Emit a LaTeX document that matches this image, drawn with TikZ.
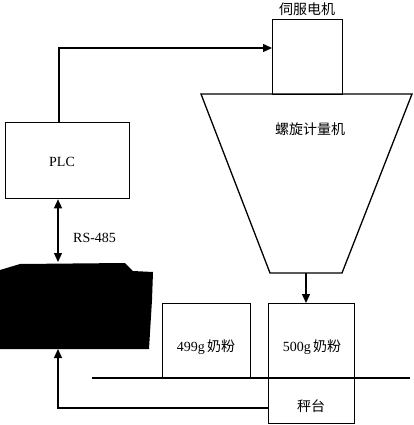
\documentclass[tikz,border=0pt]{standalone}
\usepackage{fontspec}
\setmainfont{Liberation Serif}
\newfontfamily\cjk{Noto Sans CJK SC}
\usetikzlibrary{arrows.meta}
\tikzset{
  box/.style={draw, line width=1.3pt, inner sep=0pt},
  lbl/.style={font=\fontsize{14}{16}\selectfont, inner sep=0pt},
  clbl/.style={font=\cjk\fontsize{14}{16}\selectfont, inner sep=0pt},
  tip/.style={Triangle[length=9pt,width=8pt]},
  conn/.style={line width=1.3pt, -{Triangle[length=9pt,width=8pt]}},
}
\begin{document}
\begin{tikzpicture}[x=1pt,y=-1pt]
\useasboundingbox (0,0) rectangle (413,425);
% servo motor
\node[box, minimum width=70pt, minimum height=75pt, anchor=north west] (servo) at (272,19) {};
\node[clbl] (servolbl) at (307,9) {伺服电机};
% screw metering machine (trapezoid)
\draw[line width=1.3pt] (201,94) coordinate (tl) -- (412,94) coordinate (tr) -- (342,273) coordinate (br) -- (270,273) coordinate (bl) -- cycle;
\node[clbl] (screw) at (310,129) {螺旋计量机};
\coordinate (hopout) at (306,273);
% PLC
\node[box, minimum width=124pt, minimum height=76pt, anchor=north west] (plc) at (5,122) {};
\node[lbl] (plclbl) at (62,162) {PLC};
% black box
\fill (0,270) -- (20,264) -- (125,263) -- (133,271) -- (153,272) -- (152,300) -- (149,349) -- (0,349) -- cycle;
\coordinate (blktop) at (58,262);
\coordinate (blkbot) at (58,349);
% boxes
\node[box, minimum width=88pt, minimum height=75pt, anchor=north west] (b499) at (162,303) {};
\node[lbl] (l499) at (206,347) {499g\,{\cjk 奶粉}};
\node[box, minimum width=86pt, minimum height=75pt, anchor=north west] (b500) at (268,303) {};
\node[lbl] (l500) at (312,347) {500g\,{\cjk 奶粉}};
\node[box, minimum width=86pt, minimum height=45pt, anchor=north west] (scale) at (268,378) {};
\node[clbl] (lscale) at (311,406) {秤台};
% floor line
\coordinate (fl) at (92,378);
\coordinate (fr) at (410,378);
\draw[line width=1.3pt] (fl) -- (fr);
% connectors
\draw[conn] (plc.north -| 59,0) |- (servo.west |- 0,48);
\draw[line width=1.3pt, {Triangle[length=9pt,width=8pt]}-{Triangle[length=9pt,width=8pt]}] (plc.south -| 58,0) -- (blktop);
\node[lbl, anchor=west] (rs) at (73,238) {RS-485};
\draw[conn] (hopout) -- (b500.north -| hopout);
\draw[conn] (scale.west |- 0,408) -| (blkbot);
\end{tikzpicture}
\end{document}
